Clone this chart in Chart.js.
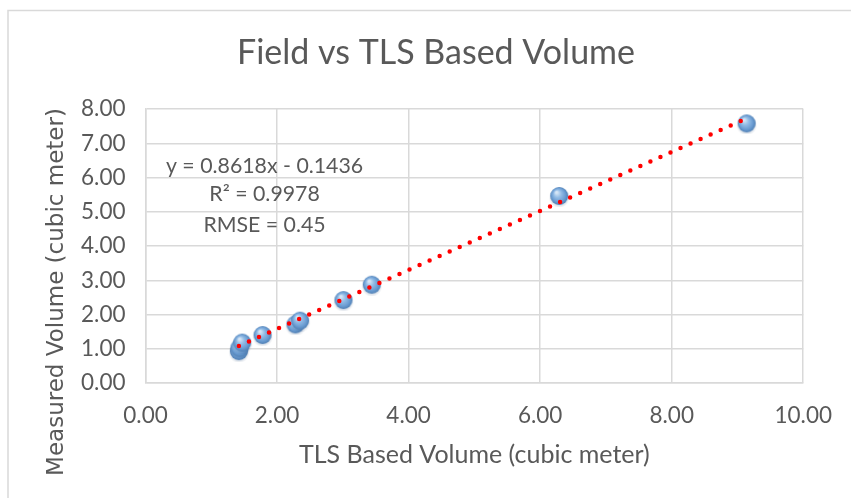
<!DOCTYPE html>
<html>
<head>
<meta charset="utf-8">
<script src="https://cdn.jsdelivr.net/npm/chart.js@4/dist/chart.umd.min.js"></script>
<style>
html,body{margin:0;padding:0;background:#fff;}
#wrap{position:relative;width:851px;height:498px;}
</style>
</head>
<body>
<div id="wrap"><canvas id="c" width="851" height="498"></canvas></div>
<script>
// ---- data ----
const tlsVolume = [1.42, 1.43, 1.47, 1.78, 2.28, 2.35, 3.01, 3.44, 6.29, 9.14];
const measuredVolume = [0.93, 1.03, 1.18, 1.40, 1.71, 1.82, 2.42, 2.87, 5.46, 7.58];
const trendX = [1.42, 9.14];
const trendY = [1.08, 7.73];
const annotationLines = ["y = 0.8618x - 0.1436", "R\u00B2 = 0.9978", "RMSE = 0.45"];
const xTickValues = [0, 2, 4, 6, 8, 10];
const yTickValues = [0, 1, 2, 3, 4, 5, 6, 7, 8];

const textColor = '#595959';
const gridColor = '#d9d9d9';
const mainFont = 'Lato, Carlito, Calibri, sans-serif';

// sphere-like marker
function makeBall(r) {
  const s = r * 2 + 4;
  const cv = document.createElement('canvas');
  cv.width = s; cv.height = s;
  const g = cv.getContext('2d');
  const cx = s / 2, cy = s / 2;
  const sh = g.createRadialGradient(cx, cy + 1.5, r * 0.6, cx, cy + 1.5, r + 1.5);
  sh.addColorStop(0, 'rgba(60,90,130,0.35)');
  sh.addColorStop(1, 'rgba(60,90,130,0)');
  g.fillStyle = sh;
  g.beginPath(); g.arc(cx, cy + 1.5, r + 1.5, 0, Math.PI * 2); g.fill();
  const grd = g.createRadialGradient(cx - r * 0.3, cy - r * 0.4, r * 0.1, cx, cy, r);
  grd.addColorStop(0, '#d6e6f6');
  grd.addColorStop(0.35, '#95bde6');
  grd.addColorStop(0.75, '#6a9cd2');
  grd.addColorStop(1, '#4f7fb4');
  g.fillStyle = grd;
  g.beginPath(); g.arc(cx, cy, r, 0, Math.PI * 2); g.fill();
  return cv;
}
const ball = makeBall(9);

const bgBorder = {
  id: 'bgBorder',
  beforeDraw(chart) {
    const c = chart.ctx;
    c.save();
    c.strokeStyle = gridColor;
    c.lineWidth = 1.5;
    c.beginPath();
    c.moveTo(8, 498); c.lineTo(8, 10.5); c.lineTo(851, 10.5);
    c.stroke();
    c.restore();
  }
};

const extraText = {
  id: 'extraText',
  afterDatasetsDraw(chart) {
    const c = chart.ctx;
    const xs = chart.scales.x, ys = chart.scales.y;
    c.save();
    c.fillStyle = textColor;
    c.textAlign = 'center';
    c.textBaseline = 'middle';
    c.font = '21.3px ' + mainFont;
    const cx = xs.getPixelForValue(1.81);
    const rowsY = [6.34, 5.52, 4.61];
    annotationLines.forEach((t, i) => {
      c.fillText(t, cx, ys.getPixelForValue(rowsY[i]));
    });
    // y-axis title
    c.translate(57, 292);
    c.rotate(-Math.PI / 2);
    c.font = '23px "DejaVu Sans", Verdana, sans-serif';
    c.fillText('Measured Volume (cubic meter)', 0, 0);
    c.restore();
  }
};

new Chart(document.getElementById('c'), {
  type: 'scatter',
  data: {
    datasets: [
      {
        type: 'line',
        label: 'Trend',
        data: trendX.map((x, i) => ({ x: x, y: trendY[i] })),
        borderColor: '#ff0000',
        borderWidth: 4.5,
        borderDash: [0, 11],
        borderCapStyle: 'round',
        pointRadius: 0,
        fill: false,
        order: 0
      },
      {
        label: 'Volume',
        data: tlsVolume.map((x, i) => ({ x: x, y: measuredVolume[i] })),
        pointStyle: ball,
        pointRadius: 9,
        order: 1
      }
    ]
  },
  options: {
    responsive: false,
    animation: false,
    devicePixelRatio: 1,
    layout: { padding: { left: 65.5, right: 44.5, top: 0, bottom: 0 } },
    plugins: {
      legend: { display: false },
      tooltip: { enabled: false },
      title: {
        display: true,
        text: 'Field vs TLS Based Volume',
        color: textColor,
        font: { family: mainFont, size: 34, weight: 'normal', lineHeight: 1.2 },
        padding: { top: 33, bottom: 35.2 }
      }
    },
    scales: {
      x: {
        type: 'linear',
        min: 0, max: 10,
        afterBuildTicks(s) { s.ticks = xTickValues.map(v => ({ value: v })); },
        afterFit(s) { s.height = 115; },
        grid: { color: gridColor, lineWidth: 1.5, drawTicks: false },
        border: { color: gridColor, width: 1.5 },
        ticks: {
          color: textColor,
          font: { family: mainFont, size: 22.5 },
          padding: 19,
          callback: v => Number(v).toFixed(2)
        },
        title: {
          display: true,
          text: 'TLS Based Volume (cubic meter)',
          color: textColor,
          font: { family: mainFont, size: 25 },
          padding: { top: 0, bottom: 28 }
        }
      },
      y: {
        type: 'linear',
        min: 0, max: 8,
        afterBuildTicks(s) { s.ticks = yTickValues.map(v => ({ value: v })); },
        afterFit(s) { s.width = 80; },
        grid: { color: gridColor, lineWidth: 1.5, drawTicks: false },
        border: { color: gridColor, width: 1.5 },
        ticks: {
          color: textColor,
          font: { family: mainFont, size: 22.5 },
          padding: 20,
          callback: v => Number(v).toFixed(2)
        }
      }
    }
  },
  plugins: [bgBorder, extraText]
});
</script>
</body>
</html>
